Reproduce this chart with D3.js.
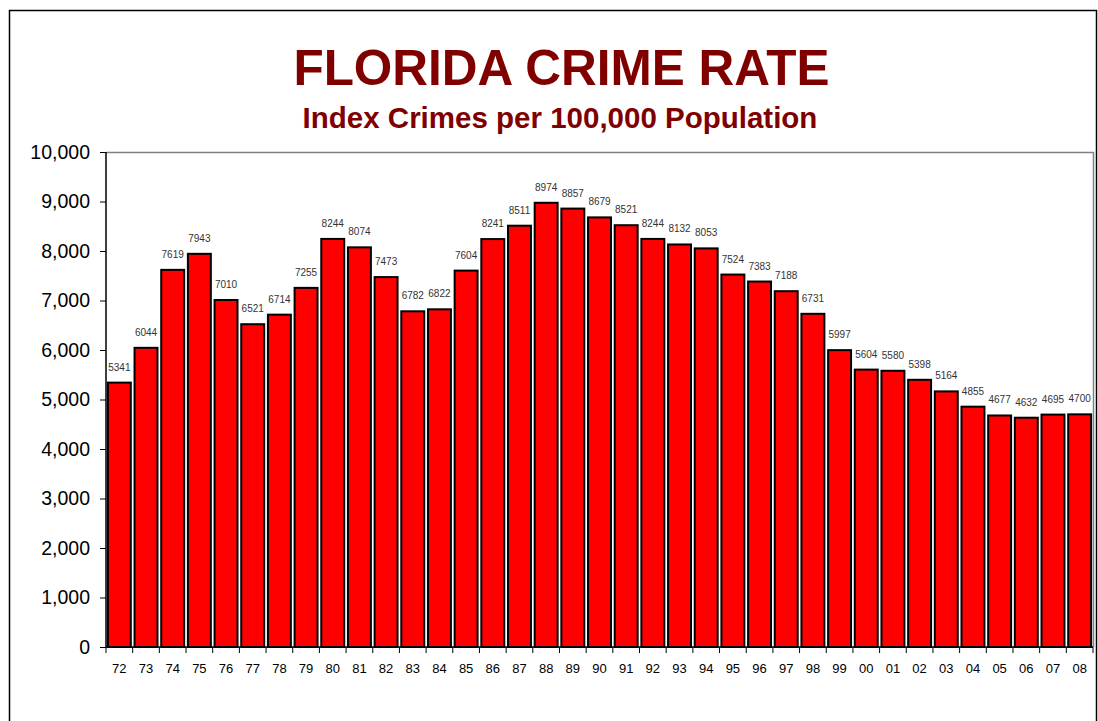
<!DOCTYPE html>
<html><head><meta charset="utf-8">
<script src="https://cdn.jsdelivr.net/npm/d3@7"></script>
<style>body{margin:0;background:#fff;}svg{display:block;font-family:"Liberation Sans",Arial,sans-serif;}</style>
</head><body>
<svg id="c" width="1098" height="721"></svg>
<script>
const years = ["72","73","74","75","76","77","78","79","80","81","82","83","84","85","86","87","88","89","90","91","92","93","94","95","96","97","98","99","00","01","02","03","04","05","06","07","08"];
const rates = [5341,6044,7619,7943,7010,6521,6714,7255,8244,8074,7473,6782,6822,7604,8241,8511,8974,8857,8679,8521,8244,8132,8053,7524,7383,7188,6731,5997,5604,5580,5398,5164,4855,4677,4632,4695,4700];
const yTicks = [0,1000,2000,3000,4000,5000,6000,7000,8000,9000,10000];
const titleText = "FLORIDA CRIME RATE";
const subtitleText = "Index Crimes per 100,000 Population";

const svg = d3.select("#c");
const L = 106, R = 1093, T = 152, B = 647;

// outer frame
svg.append("rect").attr("x",9.5).attr("y",10.5).attr("width",1087).attr("height",760)
  .attr("fill","none").attr("stroke","#000").attr("stroke-width",1.5);

svg.append("text").attr("x",561.5).attr("y",85).attr("text-anchor","middle")
  .attr("font-size",49.5).attr("font-weight","bold").attr("fill","#800000").text(titleText);
svg.append("text").attr("x",560).attr("y",128).attr("text-anchor","middle")
  .attr("font-size",29.5).attr("font-weight","bold").attr("fill","#800000").text(subtitleText);

const x = d3.scaleBand().domain(years).range([L,R]).paddingInner(0.14).paddingOuter(0.07);
const y = d3.scaleLinear().domain([0,10000]).range([B,T]);

// plot area border (grey top/right)
svg.append("path").attr("d",`M${L},${T+0.5}H${R+0.5}V${B}`).attr("fill","none").attr("stroke","#808080").attr("stroke-width",1.5);

svg.selectAll("rect.bar").data(rates).join("rect").attr("class","bar")
  .attr("x",(d,i)=>x(years[i])).attr("y",d=>y(d))
  .attr("width",x.bandwidth()).attr("height",d=>B-y(d))
  .attr("fill","#ff0000").attr("stroke","#000").attr("stroke-width",2);

svg.selectAll("text.val").data(rates).join("text").attr("class","val")
  .attr("x",(d,i)=>x(years[i])+x.bandwidth()/2).attr("y",d=>y(d)-12)
  .attr("text-anchor","middle").attr("font-size",10).attr("fill","#333").text(d=>d);

// y axis
const yAxis = d3.axisLeft(y).tickValues(yTicks).tickSize(6).tickPadding(10).tickFormat(d3.format(","));
const gy = svg.append("g").attr("transform",`translate(${L},0)`).call(yAxis);
gy.select(".domain").attr("stroke","#000").attr("stroke-width",1.5).attr("d",`M0,${T}V${B}`);
gy.selectAll("text").attr("font-size",19.5).attr("fill","#000").attr("font-family","Liberation Sans, Arial, sans-serif");

// x axis
const gx = svg.append("g").attr("transform",`translate(0,${B})`);
gx.append("line").attr("x1",L).attr("x2",R).attr("stroke","#000").attr("stroke-width",1.5);
const bounds = d3.range(years.length+1).map(i=>L + (R-L)*i/years.length);
gx.selectAll("line.t").data(bounds).join("line").attr("class","t")
  .attr("x1",d=>d).attr("x2",d=>d).attr("y1",0).attr("y2",6).attr("stroke","#000");
gx.selectAll("text").data(years).join("text")
  .attr("x",d=>x(d)+x.bandwidth()/2).attr("y",26).attr("text-anchor","middle")
  .attr("font-size",13).attr("fill","#000").text(d=>d);
</script>
</body></html>
